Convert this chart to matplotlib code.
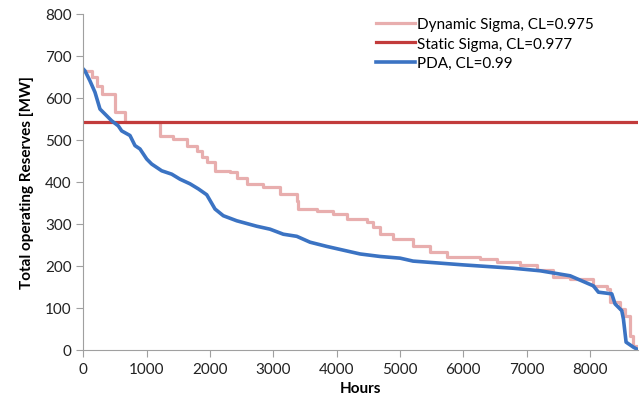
import numpy as np
import matplotlib.pyplot as plt

plt.rcParams['font.family'] = ['Lato', 'DejaVu Sans']

# Data
static_level = 543

pda_hours = [0, 25, 104, 183, 262, 368, 447, 551, 605, 736, 815, 894, 1000, 1079,
             1237, 1395, 1526, 1684, 1815, 1948, 2079, 2210, 2422, 2738, 2948,
             3158, 3370, 3580, 3843, 4106, 4370, 4686, 5002, 5207, 5997, 6787,
             7213, 7688, 8056, 8135, 8346, 8398, 8504, 8530, 8572, 8688, 8760]
pda_mw = [668, 664, 640, 613, 573, 557, 545, 533, 521, 510, 486, 478, 454, 442,
          426, 418, 406, 395, 383, 369, 335, 319, 307, 294, 287,
          275, 270, 256, 246, 237, 228, 222, 218, 211, 202, 194,
          188, 176, 152, 137, 133, 109, 93, 73, 18, 6, 0]

dyn_hours = [0, 133, 215, 290, 500, 655, 1210, 1415, 1636, 1794, 1870, 1948,
             2079, 2316, 2422, 2580, 2842, 3106, 3370, 3395, 3685, 3948, 4160,
             4476, 4580, 4686, 4896, 5207, 5476, 5744, 6265, 6534, 6898, 7166,
             7419, 7688, 8051, 8272, 8320, 8478, 8557, 8636, 8683, 8740]
dyn_mw = [664, 649, 628, 609, 566, 542, 509, 502, 485, 473, 460, 446,
          426, 422, 410, 395, 387, 371, 355, 335, 331, 323, 311,
          303, 291, 275, 263, 247, 232, 220, 215, 208, 201, 190,
          173, 168, 151, 144, 113, 97, 80, 33, 9, 0]

fig = plt.figure(figsize=(6.43, 4.10), dpi=100)
ax = fig.add_axes([0.1297, 0.1446, 0.8625, 0.8195])

ax.step(dyn_hours, dyn_mw, where='post', color='#E8AEAE', lw=2.3,
        label='Dynamic Sigma, CL=0.975')
ax.axhline(static_level, color='#C23B3B', lw=2.3, label='Static Sigma, CL=0.977')
ax.plot(pda_hours, pda_mw, color='#3B73C3', lw=2.6, label='PDA, CL=0.99')

ax.set_xlim(0, 8760)
ax.set_ylim(0, 800)
ax.set_xticks(np.arange(0, 8001, 1000))
ax.set_yticks(np.arange(0, 801, 100))

for s in ['top', 'right']:
    ax.spines[s].set_visible(False)
for s in ['left', 'bottom']:
    ax.spines[s].set_color('#A0A0A0')
ax.tick_params(colors='#A0A0A0', labelcolor='#222222', labelsize=11, length=5)

ax.set_xlabel('Hours', fontsize=11, fontweight='bold', labelpad=4)
ax.set_ylabel('Total operating Reserves [MW]', fontsize=11, fontweight='bold', labelpad=8)

ax.legend(loc='upper right', bbox_to_anchor=(0.945, 1.03), frameon=False, fontsize=11,
          handlelength=2.6, handletextpad=0.1, labelspacing=0.35)

plt.savefig('out.png', dpi=100)
